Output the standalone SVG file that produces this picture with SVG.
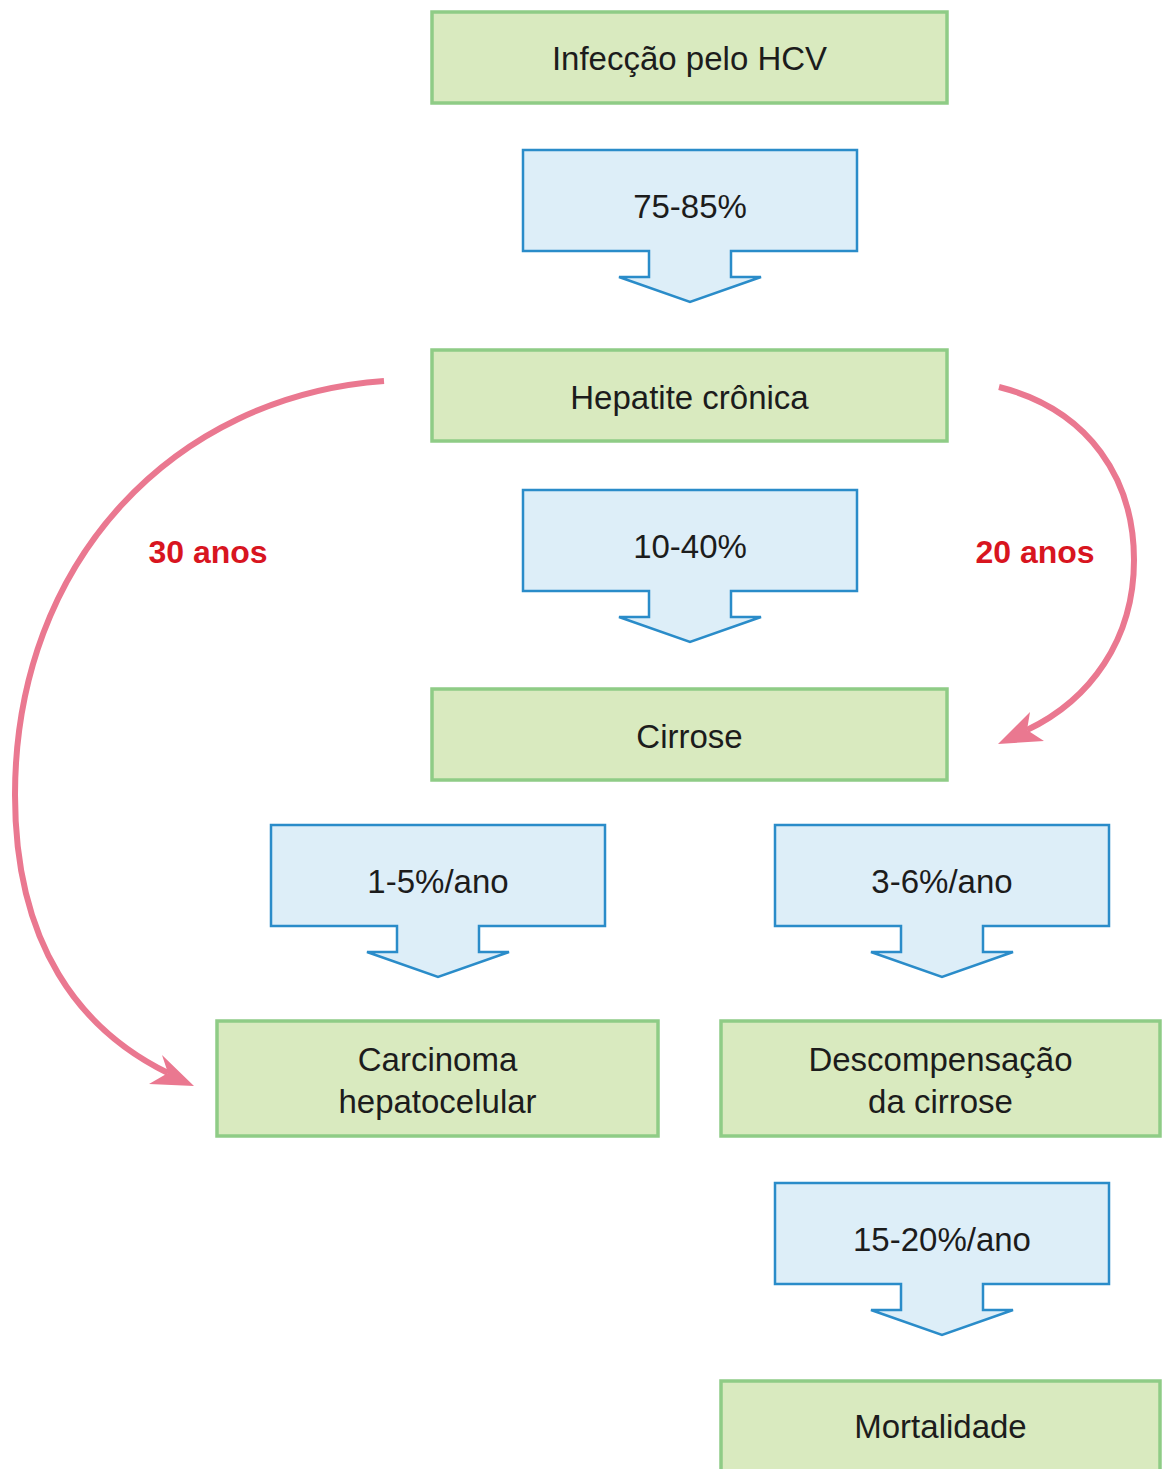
<svg xmlns="http://www.w3.org/2000/svg" width="1162" height="1469" viewBox="0 0 1162 1469">
  <defs>
    <style>
      .box { fill: #d9eabf; stroke: #8fcc86; stroke-width: 3.5; }
      .step { fill: #ddeef8; stroke: #2a8cc9; stroke-width: 2.5; stroke-linejoin: miter; }
      .lbl { font-family: "Liberation Sans", Arial, sans-serif; font-size: 33px; fill: #1c1c1c; text-anchor: middle; }
      .yrs { font-family: "Liberation Sans", Arial, sans-serif; font-size: 32px; font-weight: bold; fill: #d8151f; text-anchor: middle; }
      .arc { fill: none; stroke: #ea7890; stroke-width: 6; stroke-linecap: butt; }
      .head { fill: #ea7890; }
    </style>
    <!-- down-pointing callout: 334 x 101 body with stem and head, origin at top-left -->
    <path id="callout" d="M0,0 H334 V101 H208 V127 H238 L167,152 L96,127 H126 V101 H0 Z"/>
  </defs>

  <rect width="1162" height="1469" fill="#ffffff"/>

  <!-- curved timeline connectors -->
  <g id="connectors">
    <path class="arc" d="M384,381 C175,396 15,560 15,795 C15,945 80,1030 168,1073"/>
    <polygon class="head" points="194,1086 162,1055 168,1073 149,1084"/>
    <path class="arc" d="M999,387 C1090,410 1134,480 1134,560 C1134,640 1090,700 1027,730"/>
    <polygon class="head" points="998,744 1030,712 1027,730 1044,741"/>
  </g>

  <g id="label-30">
    <text class="yrs" x="208" y="563">30 anos</text>
  </g>
  <g id="label-20">
    <text class="yrs" x="1035" y="563">20 anos</text>
  </g>

  <g id="n-infeccao">
    <rect class="box" x="432" y="12" width="515" height="91"/>
    <text class="lbl" x="689.5" y="70">Infecção pelo HCV</text>
  </g>

  <g id="s-75-85">
    <use href="#callout" class="step" x="523" y="150"/>
    <text class="lbl" x="690" y="218">75-85%</text>
  </g>

  <g id="n-hepatite">
    <rect class="box" x="432" y="350" width="515" height="91"/>
    <text class="lbl" x="689.5" y="409">Hepatite crônica</text>
  </g>

  <g id="s-10-40">
    <use href="#callout" class="step" x="523" y="490"/>
    <text class="lbl" x="690" y="558">10-40%</text>
  </g>

  <g id="n-cirrose">
    <rect class="box" x="432" y="689" width="515" height="91"/>
    <text class="lbl" x="689.5" y="748">Cirrose</text>
  </g>

  <g id="s-1-5">
    <use href="#callout" class="step" x="271" y="825"/>
    <text class="lbl" x="438" y="893">1-5%/ano</text>
  </g>

  <g id="s-3-6">
    <use href="#callout" class="step" x="775" y="825"/>
    <text class="lbl" x="942" y="893">3-6%/ano</text>
  </g>

  <g id="n-carcinoma">
    <rect class="box" x="217" y="1021" width="441" height="115"/>
    <text class="lbl" x="437.5" y="1071">Carcinoma</text>
    <text class="lbl" x="437.5" y="1113">hepatocelular</text>
  </g>

  <g id="n-descompensacao">
    <rect class="box" x="721" y="1021" width="439" height="115"/>
    <text class="lbl" x="940.5" y="1071">Descompensação</text>
    <text class="lbl" x="940.5" y="1113">da cirrose</text>
  </g>

  <g id="s-15-20">
    <use href="#callout" class="step" x="775" y="1183"/>
    <text class="lbl" x="942" y="1251">15-20%/ano</text>
  </g>

  <g id="n-mortalidade">
    <rect class="box" x="721" y="1381" width="439" height="110"/>
    <text class="lbl" x="940.5" y="1438">Mortalidade</text>
  </g>
</svg>
